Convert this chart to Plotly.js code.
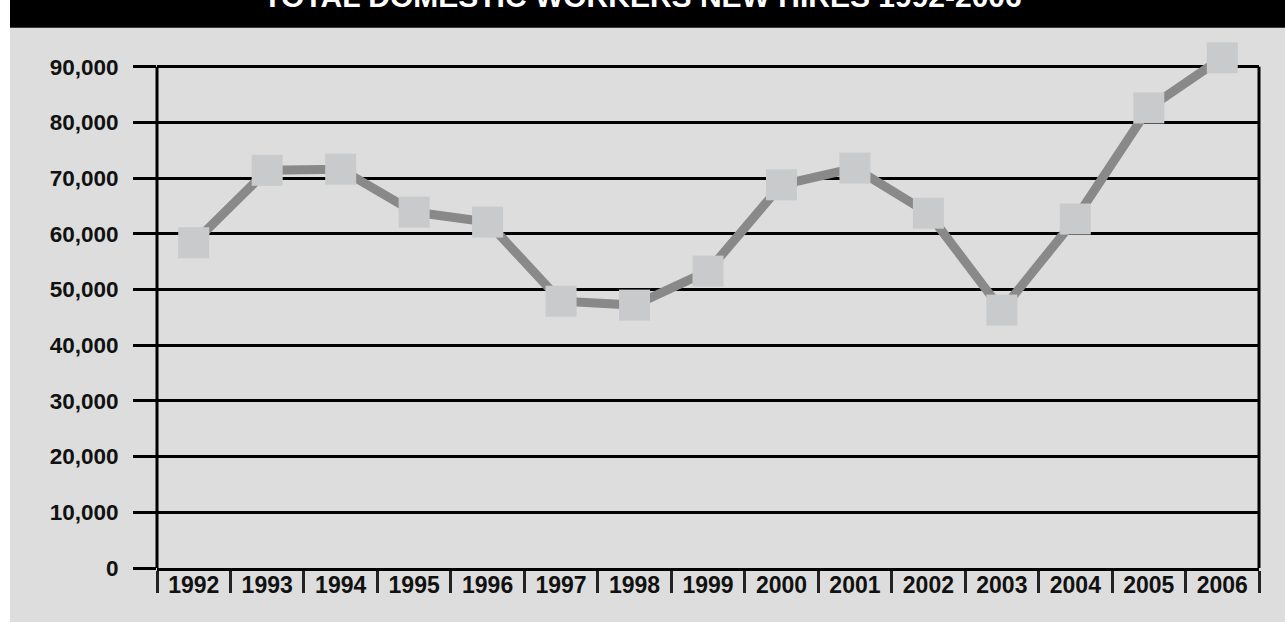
<!DOCTYPE html>
<html>
<head>
<meta charset="utf-8">
<script src="https://cdn.plot.ly/plotly-3.0.1.min.js"></script>
<style>
  html, body { margin: 0; padding: 0; background: #ffffff; }
  #chart { width: 1285px; height: 623px; }
</style>
</head>
<body>
<div id="chart"></div>
<script>
// ---- data ----
const years = ["1992","1993","1994","1995","1996","1997","1998","1999","2000","2001","2002","2003","2004","2005","2006"];
const newHires = [58400, 71400, 71600, 63900, 62100, 47900, 47200, 53300, 68800, 71800, 63700, 46300, 62650, 82600, 91600];
const yTickValues = [0, 10000, 20000, 30000, 40000, 50000, 60000, 70000, 80000, 90000];
const yTickLabels = ["0", "10,000", "20,000", "30,000", "40,000", "50,000", "60,000", "70,000", "80,000", "90,000"];
const chartTitle = "TOTAL DOMESTIC WORKERS NEW HIRES 1992-2006";

// ---- layout constants ----
const W = 1285, H = 623;
const gridTop = yTickValues[yTickValues.length - 1];   // top gridline value
const yMax = 93000;                                    // head-room so the 2006 marker shows
const plotLeft = 157, plotRight = 1259, zeroPx = 568, topGridPx = 67;
const pxPerUnit = (zeroPx - topGridPx) / gridTop;
const M = { l: plotLeft, r: W - plotRight, b: H - zeroPx, t: zeroPx - pxPerUnit * yMax };
const pw = W - M.l - M.r, ph = H - M.t - M.b;
const px = v => (v - M.l) / pw;          // pixel x -> paper x
const py = v => (H - M.b - v) / ph;      // pixel y -> paper y

const FONT = "'Liberation Sans', Arial, Helvetica, sans-serif";

const trace = {
  type: "scatter",
  mode: "lines+markers",
  x: years,
  y: newHires,
  cliponaxis: false,
  line: { color: "#898989", width: 9 },
  marker: { symbol: "square", size: 31, color: "#c9cacb", line: { width: 0 } },
  hoverinfo: "x+y"
};

const layout = {
  width: W,
  height: H,
  margin: M,
  paper_bgcolor: "#ffffff",
  plot_bgcolor: "rgba(0,0,0,0)",
  showlegend: false,
  title: {
    text: chartTitle,
    font: { family: FONT, size: 30, color: "#ffffff", weight: 700 },
    xref: "container", yref: "container",
    x: 0.5, xanchor: "center",
    y: 1 - 7 / H, yanchor: "bottom"
  },
  xaxis: {
    type: "category",
    range: [-0.5, years.length - 0.5],
    showgrid: false,
    zeroline: false,
    showline: true, linecolor: "#000000", linewidth: 3,
    ticks: "outside", tickson: "boundaries", ticklen: 22, tickwidth: 3, tickcolor: "#222222",
    tickangle: 0,
    ticklabelstandoff: -6,
    tickfont: { family: FONT, size: 23, color: "#111111", weight: 700 },
    fixedrange: true
  },
  yaxis: {
    range: [0, yMax],
    tickvals: yTickValues,
    ticktext: yTickLabels,
    showgrid: true, gridcolor: "#000000", gridwidth: 3,
    zeroline: false,
    showline: false,
    ticks: "outside", ticklen: 23, tickwidth: 3, tickcolor: "#000000",
    ticklabelstandoff: 10,
    tickfont: { family: FONT, size: 22.5, color: "#111111", weight: 700 },
    fixedrange: true
  },
  shapes: [
    { type: "rect", xref: "paper", yref: "paper", layer: "below",
      x0: px(10), x1: px(W), y0: py(622), y1: py(28),
      fillcolor: "#dcdddc", line: { width: 0 } },
    { type: "rect", xref: "paper", yref: "paper", layer: "below",
      x0: px(10), x1: px(W), y0: py(28), y1: py(0),
      fillcolor: "#000000", line: { width: 0 } },
    // left and right frame lines, from 0 up to the top gridline
    { type: "line", xref: "paper", yref: "y", layer: "below",
      x0: 0, x1: 0, y0: 0, y1: gridTop, line: { color: "#000000", width: 3 } },
    { type: "line", xref: "paper", yref: "y", layer: "below",
      x0: 1, x1: 1, y0: 0, y1: gridTop, line: { color: "#000000", width: 3 } }
  ]
};

Plotly.newPlot("chart", [trace], layout, { displayModeBar: false, staticPlot: true });
</script>
</body>
</html>
